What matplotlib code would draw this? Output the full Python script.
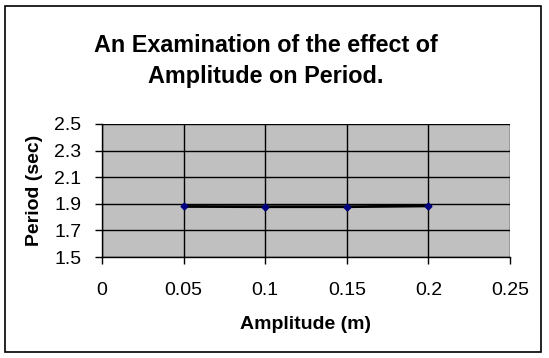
import matplotlib
matplotlib.use("Agg")
import matplotlib.pyplot as plt
from matplotlib.patches import Rectangle

amplitude = [0.05, 0.10, 0.15, 0.20]
period = [1.880, 1.878, 1.878, 1.884]
x_ticks = [0, 0.05, 0.1, 0.15, 0.2, 0.25]
x_tick_labels = ["0", "0.05", "0.1", "0.15", "0.2", "0.25"]
y_ticks = [1.5, 1.7, 1.9, 2.1, 2.3, 2.5]
y_tick_labels = ["1.5", "1.7", "1.9", "2.1", "2.3", "2.5"]

plt.rcParams['font.family'] = ['Liberation Sans', 'DejaVu Sans']
W, H = 549, 358
fig = plt.figure(figsize=(W/100, H/100), dpi=100)
fig.patch.set_facecolor("white")
fig.patches.append(Rectangle((5/W, 6/H), 536/W, 346/H, transform=fig.transFigure,
                             fill=False, edgecolor="black", linewidth=1.2))

ax = fig.add_axes([102/W, 1-257/H, 408/W, 133/H])
ax.set_facecolor("#C0C0C0")
ax.plot(amplitude, period, color="black", linewidth=2, zorder=3)
ax.plot(amplitude, period, linestyle="none", marker="D", markersize=3.5,
        color="#000080", zorder=4)
ax.set_xlim(0, 0.25)
ax.set_ylim(1.5, 2.5)
ax.set_xticks(x_ticks)
ax.set_xticklabels(x_tick_labels)
ax.set_yticks(y_ticks)
ax.set_yticklabels(y_tick_labels)
ax.grid(True, color="black", linewidth=1)
ax.set_axisbelow(True)
for s in ["top", "right"]:
    ax.spines[s].set_visible(False)
for s in ["left", "bottom"]:
    ax.spines[s].set_color("black")
    ax.spines[s].set_linewidth(1)
ax.tick_params(axis="both", direction="out", length=5, width=1, labelsize=14, colors="black")
ax.tick_params(axis="x", pad=13)
ax.tick_params(axis="y", pad=10)
ax.set_xlabel("Amplitude (m)", fontsize=14, fontweight="bold", labelpad=12)
ax.set_ylabel("Period (sec)", fontsize=14, fontweight="bold", labelpad=8)

fig.text(266/W, 1-61/H, "An Examination of the effect of\nAmplitude on Period.",
         ha="center", va="center", fontsize=16.8, fontweight="bold", linespacing=1.4)

fig.savefig("out.png", dpi=100)
